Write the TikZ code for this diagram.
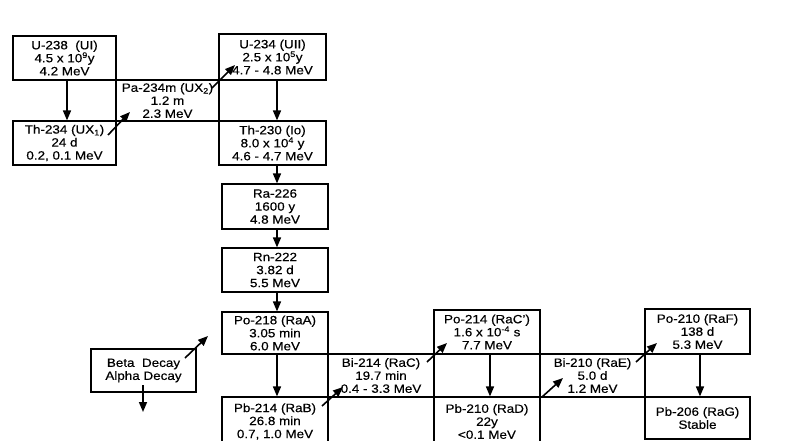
\documentclass[tikz,border=0pt]{standalone}
\usepackage{fontspec}
\setmainfont{Liberation Sans}[FakeStretch=1.12,FakeBold=0.4]
\usetikzlibrary{arrows.meta}
\begin{document}
\begin{tikzpicture}[x=1pt,y=-1pt,
  box/.style={draw, line width=1.2pt, inner sep=0pt, align=center,
    font=\fontsize{12}{13}\selectfont},
  arr/.style={line width=1.6pt, -{Triangle[length=10pt,width=8pt]}}]
\clip (0,0) rectangle (789,441);
\fill[white] (0,0) rectangle (789,441);
% column reference coordinates
\coordinate (colA) at (67,0);
\coordinate (colB) at (277,0);
\coordinate (colD) at (490,0);
\coordinate (colF) at (700,0);
% boxes
\node[box, minimum width=103pt, minimum height=44pt] (u238) at (64.5,58) {U-238\ \ (UI)\\4.5 x 10\textsuperscript{9}y\\4.2 MeV};
\node[box, minimum width=103pt, minimum height=44pt] (th234) at (64.5,143) {Th-234 (UX\textsubscript{1})\\24 d\\0.2, 0.1 MeV};
\node[box, minimum width=103pt, minimum height=41pt] (pa234) at (167.5,100.5) {Pa-234m (UX\textsubscript{2})\\1.2 m\\2.3 MeV};
\node[box, minimum width=107pt, minimum height=46pt] (u234) at (272.5,57) {U-234 (UII)\\2.5 x 10\textsuperscript{5}y\\4.7 - 4.8 MeV};
\node[box, minimum width=107pt, minimum height=44pt] (th230) at (272.5,143) {Th-230 (Io)\\8.0 x 10\textsuperscript{4} y\\4.6 - 4.7 MeV};
\node[box, minimum width=106pt, minimum height=45pt] (ra226) at (275,206.5) {Ra-226\\1600 y\\4.8 MeV};
\node[box, minimum width=106pt, minimum height=44pt] (rn222) at (275,270) {Rn-222\\3.82 d\\5.5 MeV};
\node[box, minimum width=106pt, minimum height=42pt] (po218) at (275,333) {Po-218 (RaA)\\3.05 min\\6.0 MeV};
\node[box, minimum width=106pt, minimum height=49pt] (pb214) at (275,421.5) {Pb-214 (RaB)\\26.8 min\\0.7, 1.0 MeV};
\node[box, minimum width=106pt, minimum height=43pt] (bi214) at (381,375.5) {Bi-214 (RaC)\\19.7 min\\0.4 - 3.3 MeV};
\node[box, minimum width=106pt, minimum height=44pt] (po214) at (487,332) {Po-214 (RaC')\\1.6 x 10\textsuperscript{-4} s\\7.7 MeV};
\node[box, minimum width=106pt, minimum height=49pt] (pb210) at (487,421.5) {Pb-210 (RaD)\\22y\\<0.1 MeV};
\node[box, minimum width=105pt, minimum height=43pt] (bi210) at (592.5,375.5) {Bi-210 (RaE)\\5.0 d\\1.2 MeV};
\node[box, minimum width=105pt, minimum height=45pt] (po210) at (697.5,331.5) {Po-210 (RaF)\\138 d\\5.3 MeV};
\node[box, minimum width=105pt, minimum height=42pt] (pb206) at (697.5,418) {Pb-206 (RaG)\\Stable};
\node[box, minimum width=105pt, minimum height=43pt] (legend) at (143.5,370.5) {Beta\ \ Decay\\Alpha Decay};
% alpha decays (vertical)
\draw[arr] (u238.south -| colA) -- (th234.north -| colA);
\draw[arr] (u234.south -| colB) -- (th230.north -| colB);
\draw[arr] (th230.south -| colB) -- (ra226.north -| colB);
\draw[arr] (ra226.south -| colB) -- (rn222.north -| colB);
\draw[arr] (rn222.south -| colB) -- (po218.north -| colB);
\draw[arr] (po218.south -| colB) -- (pb214.north -| colB);
\draw[arr] (po214.south -| colD) -- (pb210.north -| colD);
\draw[arr] (po210.south -| colF) -- (pb206.north -| colF);
% beta decays (diagonal)
\coordinate (b1s) at (108,135); \coordinate (b1e) at (130,112);
\coordinate (b2s) at (212,88);  \coordinate (b2e) at (235,65);
\coordinate (b3s) at (322,406); \coordinate (b3e) at (343,387);
\coordinate (b4s) at (427,362); \coordinate (b4e) at (447,343);
\coordinate (b5s) at (542,397); \coordinate (b5e) at (563,378);
\coordinate (b6s) at (636,362); \coordinate (b6e) at (657,343);
\draw[arr] (b1s) -- (b1e);
\draw[arr] (b2s) -- (b2e);
\draw[arr] (b3s) -- (b3e);
\draw[arr] (b4s) -- (b4e);
\draw[arr] (b5s) -- (b5e);
\draw[arr] (b6s) -- (b6e);
% legend arrows
\coordinate (lbs) at (185,358); \coordinate (lbe) at (208,336);
\coordinate (las) at (143,385); \coordinate (lae) at (143,412);
\draw[arr] (lbs) -- (lbe);
\draw[arr] (las) -- (lae);
\end{tikzpicture}
\end{document}
